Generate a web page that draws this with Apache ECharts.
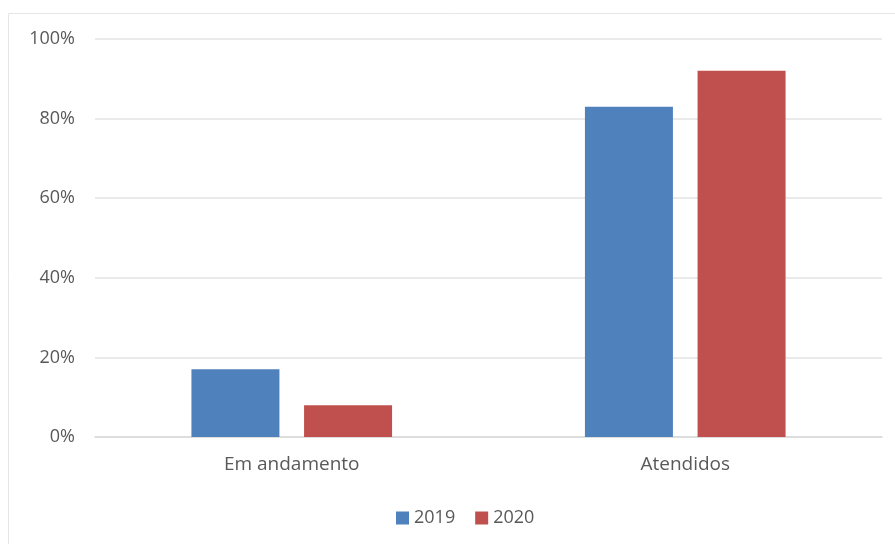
<!DOCTYPE html>
<html><head><meta charset="utf-8">
<script src="https://cdn.jsdelivr.net/npm/echarts@6/dist/echarts.min.js"></script>
<style>html,body{margin:0;padding:0;background:#fff}#c{width:895px;height:544px}</style>
</head><body><div id="c"></div>
<script>
const categories = ['Em andamento', 'Atendidos'];
const series2019 = [17, 83];
const series2020 = [8, 92];
const yTicks = [0, 20, 40, 60, 80, 100];

const chart = echarts.init(document.getElementById('c'));
const font = 'Open Sans, Liberation Sans, sans-serif';
chart.setOption({
  animation: false,
  graphic: [{type:'rect', shape:{x:8.5,y:13.5,width:900,height:600}, style:{fill:'none', stroke:'#e6e6e6', lineWidth:1}, silent:true, z:-1}],
  grid: {left: 95, right: 13, top: 39, bottom: 107},
  legend: {bottom: 12, left: 391, itemWidth: 13, itemHeight: 13, itemGap: 20, itemTextGap: 8, icon: 'rect',
    textStyle: {color:'#595959', fontSize: 18, fontFamily: font}},
  xAxis: {type:'category', data: categories, axisTick:{show:false},
    axisLine:{lineStyle:{color:'#d9d9d9', width:1.5}},
    axisLabel:{color:'#595959', fontSize:19, fontFamily:font, margin:18}},
  yAxis: {type:'value', min:0, max:100, interval:20,
    axisLabel:{color:'#595959', fontSize:18, fontFamily:font, margin:20, formatter: v => yTicks.includes(v) ? v + '%' : ''},
    splitLine:{lineStyle:{color:'#e3e3e3', width:1.5}}, axisLine:{show:false}, axisTick:{show:false}},
  series: [
    {name:'2019', type:'bar', data: series2019, barWidth: 88, barGap: '28%', itemStyle:{color:'#4f81bd'}},
    {name:'2020', type:'bar', data: series2020, barWidth: 88, itemStyle:{color:'#c0504d'}}
  ]
});
</script></body></html>
